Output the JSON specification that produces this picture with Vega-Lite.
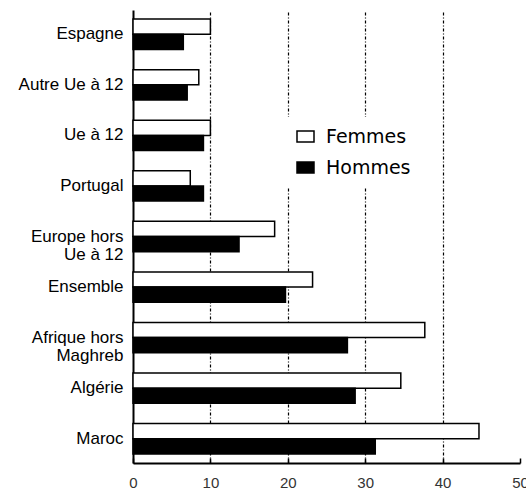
{
  "$schema": "https://vega.github.io/schema/vega-lite/v6.json",
  "width": 387,
  "height": 453,
  "autosize": "none",
  "padding": {"left": 133, "top": 10, "right": 6, "bottom": 28},
  "background": "white",
  "config": {"view": {"stroke": null}, "font": "Liberation Sans"},
  "data": {
    "values": [
      {"origine": "Espagne", "sexe": "Femmes", "taux": 10.0},
      {"origine": "Espagne", "sexe": "Hommes", "taux": 6.5},
      {"origine": "Autre Ue à 12", "sexe": "Femmes", "taux": 8.5},
      {"origine": "Autre Ue à 12", "sexe": "Hommes", "taux": 7.0},
      {"origine": "Ue à 12", "sexe": "Femmes", "taux": 10.0},
      {"origine": "Ue à 12", "sexe": "Hommes", "taux": 9.1},
      {"origine": "Portugal", "sexe": "Femmes", "taux": 7.4},
      {"origine": "Portugal", "sexe": "Hommes", "taux": 9.1},
      {"origine": "Europe hors Ue à 12", "sexe": "Femmes", "taux": 18.3},
      {"origine": "Europe hors Ue à 12", "sexe": "Hommes", "taux": 13.7},
      {"origine": "Ensemble", "sexe": "Femmes", "taux": 23.2},
      {"origine": "Ensemble", "sexe": "Hommes", "taux": 19.7},
      {"origine": "Afrique hors Maghreb", "sexe": "Femmes", "taux": 37.7},
      {"origine": "Afrique hors Maghreb", "sexe": "Hommes", "taux": 27.7},
      {"origine": "Algérie", "sexe": "Femmes", "taux": 34.6},
      {"origine": "Algérie", "sexe": "Hommes", "taux": 28.7},
      {"origine": "Maroc", "sexe": "Femmes", "taux": 44.7},
      {"origine": "Maroc", "sexe": "Hommes", "taux": 31.3}
    ]
  },
  "mark": {"type": "bar", "stroke": "black", "strokeWidth": 1.5},
  "encoding": {
    "y": {
      "field": "origine",
      "type": "nominal",
      "sort": ["Espagne", "Autre Ue à 12", "Ue à 12", "Portugal", "Europe hors Ue à 12", "Ensemble", "Afrique hors Maghreb", "Algérie", "Maroc"],
      "scale": {"paddingInner": 0.4, "paddingOuter": 0.18},
      "axis": {
        "title": null,
        "ticks": false,
        "labelFontSize": 17,
        "labelColor": "black",
        "labelPadding": 10,
        "labelLineHeight": 18,
        "domainColor": "black",
        "domainWidth": 2,
        "labelExpr": "datum.label == 'Europe hors Ue à 12' ? ['Europe hors', 'Ue à 12'] : datum.label == 'Afrique hors Maghreb' ? ['Afrique hors', 'Maghreb'] : datum.label"
      }
    },
    "yOffset": {"field": "sexe", "type": "nominal", "sort": ["Femmes", "Hommes"]},
    "x": {
      "field": "taux",
      "type": "quantitative",
      "scale": {"domain": [0, 50], "nice": false},
      "axis": {
        "title": null,
        "values": [0, 10, 20, 30, 40, 50],
        "tickSize": -5,
        "tickColor": "black",
        "tickWidth": 1.5,
        "domainColor": "black",
        "domainWidth": 2,
        "labelFontSize": 15,
        "labelColor": "#333",
        "labelPadding": 17,
        "labelFlush": false,
        "labelOverlap": false,
        "grid": true,
        "gridColor": "black",
        "gridDash": [3, 2, 1, 2],
        "gridWidth": 1.2,
        "gridOpacity": {"condition": {"test": "datum.value == 0 || datum.value == 50", "value": 0}, "value": 1}
      }
    },
    "fill": {
      "field": "sexe",
      "type": "nominal",
      "scale": {"domain": ["Femmes", "Hommes"], "range": ["white", "black"]},
      "legend": {
        "title": null,
        "orient": "none",
        "legendX": 153,
        "legendY": 107,
        "fillColor": "white",
        "padding": 10,
        "symbolType": "M-1,-0.65H1V0.65H-1Z",
        "symbolSize": 289,
        "symbolStrokeColor": "black",
        "symbolStrokeWidth": 1.5,
        "labelFont": "DejaVu Sans",
        "labelFontSize": 19,
        "labelColor": "black",
        "labelOffset": 11,
        "rowPadding": 11,
        "labelExpr": "datum.label + '    '"
      }
    }
  }
}
